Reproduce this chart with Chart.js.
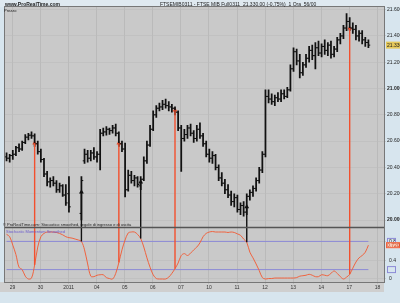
<!DOCTYPE html>
<html>
<head>
<meta charset="utf-8">
<script src="https://cdn.jsdelivr.net/npm/chart.js@4.4.0/dist/chart.umd.min.js"></script>
<style>
  html, body { margin: 0; padding: 0; background: #d7e5ee; }
  #wrap { position: relative; width: 400px; height: 303px; overflow: hidden; font-family: "Liberation Sans", Arial, sans-serif; }
  canvas { position: absolute; left: 0; top: 0; }
  .t { position: absolute; white-space: nowrap; font-size: 5px; line-height: 6px; color: #222; }
</style>
</head>
<body>
<div id="wrap">
  <canvas id="chart" width="400" height="303"></canvas>
  <div class="t" style="left:5px;top:1px;font-weight:bold;">www.ProRealTime.com</div>
  <div class="t" style="left:160px;top:1px;">FTSEMIB0311 - FTSE MIB Full0311 &nbsp;21.330,00 (-0,75%) &nbsp;1 Ora &nbsp;56/00</div>
  <div class="t" style="left:4px;top:8px;font-size:4px;">Prezzo</div>
  <div class="t" style="left:3px;top:222px;font-size:4px;">© ProRealTime.com: Stocastico smoothed, regole di ingresso e di uscita</div>
  <div class="t" style="left:6px;top:229px;font-size:4px;color:#6a5acd;">Stochastic Momentum Smoothed</div>
</div>
<script>
/* hourly bars, 9 per session */
const BARS_PER_DAY = 9;
const DAY_START = 2.39;
const DAY_LABELS = ['29', '30', '2011', '04', '05', '06', '07', '10', '11', '12', '13', '14', '17', '18'];

const OPEN = [
  20480, 20470, 20490, 20500, 20550, 20540, 20590, 20630, 20645, 20640,
  20580, 20520, 20460, 20350, 20290, 20300, 20280, 20230, 20260, 20190,
  20200, null, null, null, 20050, 20450, 20500, 20470, 20510, 20480,
  20500, 20660, 20670, 20690, 20680, 20700, 20660, 20580, 20540, 20230,
  20340, 20300, 20320, 20260, 20310, 20450, 20570, 20690, 20800, 20850,
  20860, 20880, 20870, 20860, 20850, 20820, 20700, 20620, 20650, 20700,
  20660, 20620, 20690, 20640, 20580, 20500, 20470, 20490, 20400, 20320,
  20280, 20230, 20190, 20140, 20170, 20080, 20110, 20060, 20180, 20210,
  20240, 20300, 20380, 20500, 20940, 20920, 20900, 20930, 20920, 20960,
  20940, 20990, 21150, 21280, 21210, 21120, 21180, 21230, 21290, 21250,
  21310, 21270, 21320, 21290, 21330, 21260, 21300, 21370, 21400, 21460,
  21510, 21460, 21450, 21400, 21420, 21370, 21350
];
const HIGH = [
  20510, 20500, 20530, 20560, 20580, 20600, 20650, 20660, 20670, 20655,
  20600, 20540, 20470, 20370, 20320, 20330, 20300, 20280, 20270, 20270,
  20330, null, null, null, 20330, 20540, 20530, 20530, 20550, 20520,
  20690, 20700, 20710, 20700, 20720, 20730, 20670, 20600, 20585, 20380,
  20370, 20340, 20330, 20330, 20480, 20600, 20720, 20830, 20870, 20890,
  20910, 20920, 20900, 20880, 20860, 20830, 20720, 20690, 20720, 20730,
  20680, 20720, 20740, 20660, 20600, 20540, 20520, 20500, 20420, 20360,
  20310, 20270, 20220, 20200, 20190, 20130, 20140, 20200, 20230, 20260,
  20320, 20400, 20520, 20990, 20990, 20960, 20950, 20970, 20990, 20990,
  21010, 21180, 21310, 21300, 21260, 21200, 21260, 21320, 21330, 21350,
  21360, 21340, 21370, 21350, 21360, 21320, 21390, 21420, 21480, 21570,
  21540, 21500, 21480, 21440, 21440, 21390, 21370
];
const LOW = [
  20450, 20440, 20460, 20490, 20520, 20530, 20580, 20610, 20620, 20560,
  20500, 20440, 20330, 20260, 20250, 20260, 20210, 20210, 20180, 20110,
  20060, null, null, null, 20000, 20430, 20440, 20450, 20460, 20440,
  20380, 20640, 20645, 20650, 20660, 20640, 20560, 20520, 20175, 20220,
  20280, 20260, 20250, 20230, 20300, 20430, 20560, 20680, 20780, 20830,
  20840, 20850, 20830, 20820, 20800, 20680, 20370, 20600, 20620, 20640,
  20590, 20600, 20620, 20560, 20480, 20440, 20430, 20380, 20300, 20260,
  20200, 20170, 20110, 20100, 20060, 20040, 20030, 20040, 20150, 20180,
  20220, 20280, 20360, 20480, 20890, 20880, 20870, 20900, 20900, 20920,
  20930, 20980, 21130, 21180, 21080, 21100, 21160, 21200, 21220, 21150,
  21250, 21240, 21260, 21250, 21230, 21240, 21280, 21340, 21380, 21440,
  21440, 21420, 21370, 21360, 21340, 21320, 21310
];
const CLOSE = [
  20470, 20490, 20500, 20550, 20540, 20590, 20630, 20645, 20640, 20580,
  20520, 20460, 20350, 20290, 20300, 20280, 20230, 20260, 20190, 20130,
  20100, null, null, null, 20300, 20500, 20470, 20510, 20480, 20500,
  20660, 20670, 20690, 20680, 20700, 20660, 20580, 20540, 20230, 20340,
  20300, 20320, 20270, 20310, 20450, 20570, 20690, 20800, 20850, 20860,
  20880, 20870, 20860, 20850, 20820, 20700, 20620, 20650, 20700, 20660,
  20620, 20690, 20640, 20580, 20500, 20470, 20490, 20400, 20320, 20280,
  20230, 20190, 20140, 20170, 20080, 20110, 20060, 20180, 20210, 20240,
  20300, 20380, 20500, 20940, 20920, 20900, 20930, 20920, 20960, 20940,
  20990, 21150, 21280, 21210, 21120, 21180, 21230, 21290, 21250, 21310,
  21270, 21320, 21290, 21330, 21260, 21300, 21370, 21400, 21460, 21510,
  21460, 21450, 21400, 21420, 21370, 21350, 21330
];

/* stochastic smoothed, 0..1 */
const OSC = [
  0.95, 0.90, 0.72, 0.52, 0.25, 0.20, 0.06, 0.00, 0.02, 0.30,
  0.68, 0.90, 0.97, 1.00, 1.00, 1.00, 0.99, 0.97, 0.94, 0.90,
  0.88, 0.87, 0.85, 0.83, 0.80, 0.62, 0.32, 0.06, 0.05, 0.08,
  0.09, 0.09, 0.03, 0.01, 0.00, 0.12, 0.35, 0.62, 0.83, 0.98,
  1.00, 1.00, 0.95, 0.86, 0.68, 0.45, 0.25, 0.09, 0.01, 0.00,
  0.00, 0.00, 0.04, 0.12, 0.22, 0.34, 0.50, 0.54, 0.50, 0.55,
  0.62, 0.68, 0.77, 0.90, 0.97, 1.00, 1.01, 1.00, 1.00, 1.00,
  1.00, 0.99, 1.00, 0.99, 0.96, 0.93, 0.85, 0.78, 0.57, 0.45,
  0.32, 0.18, 0.03, 0.00, 0.01, 0.01, 0.02, 0.02, 0.02, 0.02,
  0.02, 0.02, 0.02, 0.03, 0.06, 0.07, 0.08, 0.10, 0.08, 0.05,
  0.05, 0.09, 0.08, 0.07, 0.12, 0.17, 0.12, 0.05, 0.00, 0.04,
  0.10, 0.23, 0.36, 0.45, 0.50, 0.57, 0.72
];
const LEVELS = [0.2, 0.8];

const SELL_BAR = [9, 36, 54, 110];
const SELL_PRICE = [20585, 20585, 20836, 21460];
const BUY_BAR = [24, 43, 77];
const BUY_PRICE = [20213, 20289, 20100];

const PRICE_TICKS = [20000, 20100, 20200, 20300, 20400, 20500, 20600, 20700, 20800,
  20900, 21000, 21100, 21200, 21300, 21400, 21500, 21600];
const OSC_TICKS = [0, 0.2, 0.4, 0.6, 0.8, 1];

const FONT = '"Liberation Sans", Arial, sans-serif';
const SELL_COLOR = '#f2502e';
const OSC_COLOR = '#f0633f';
const LEVEL_COLOR = '#8c8ad6';

function fmtPrice(v) {
  return Math.floor(v / 1000) + '.' + String(v % 1000).padStart(3, '0');
}

const hlBars = [], openTicks = [], closeTicks = [];
OPEN.forEach((o, i) => {
  if (o == null) return;
  hlBars.push({x: i + 0.5, y: [LOW[i], HIGH[i]]});
  openTicks.push({x: i + 0.2, y: o});
  closeTicks.push({x: i + 0.8, y: CLOSE[i]});
});
const oscData = OSC.map((v, i) => ({x: i + 0.5, y: v}));
const levelSets = LEVELS.map(lv => ({
  type: 'line', yAxisID: 'yo', data: [{x: 0.5, y: lv}, {x: OSC.length - 0.5, y: lv}],
  borderColor: LEVEL_COLOR, borderWidth: 1, pointRadius: 0,
}));

const panelBg = {
  id: 'panelBg',
  beforeDraw(chart) {
    const {ctx, chartArea: a} = chart;
    ctx.save();
    ctx.fillStyle = '#dfe9f0';
    ctx.fillRect(0, 0, 400, a.top);
    ctx.fillStyle = '#cfcfcf';
    ctx.fillRect(0, a.bottom, a.right, 10);
    ctx.fillStyle = '#c9c9c9';
    ctx.fillRect(a.left, a.top, a.right - a.left, a.bottom - a.top);
    ctx.restore();
  },
};

const signalLines = {
  id: 'signalLines',
  afterDatasetsDraw(chart) {
    const {ctx} = chart;
    const x = chart.scales.x, y = chart.scales.y, yo = chart.scales.yo;
    ctx.save();
    ctx.lineWidth = 1.4;
    const draw = (bars, prices, color) => {
      ctx.strokeStyle = color;
      bars.forEach((b, k) => {
        const px = x.getPixelForValue(b + 0.5);
        ctx.beginPath();
        ctx.moveTo(px, y.getPixelForValue(prices[k]));
        ctx.lineTo(px, yo.getPixelForValue(OSC[b]));
        ctx.stroke();
      });
    };
    draw(SELL_BAR, SELL_PRICE, SELL_COLOR);
    draw(BUY_BAR, BUY_PRICE, '#111');
    ctx.restore();
  },
};

const frame = {
  id: 'frame',
  afterDraw(chart) {
    const {ctx, chartArea: a} = chart;
    const y = chart.scales.y, yo = chart.scales.yo;
    ctx.save();
    ctx.strokeStyle = '#555';
    ctx.lineWidth = 1.5;
    ctx.beginPath();
    ctx.moveTo(a.left, yo.top);
    ctx.lineTo(a.right, yo.top);
    ctx.stroke();
    ctx.lineWidth = 1;
    ctx.strokeStyle = '#777';
    ctx.strokeRect(a.left - 0.5, a.top - 0.5, a.right - a.left + 1, a.bottom - a.top + 1);

    ctx.font = '5px ' + FONT;
    ctx.textBaseline = 'middle';
    // boxed level labels
    LEVELS.forEach(lv => {
      const py = yo.getPixelForValue(lv);
      ctx.strokeStyle = LEVEL_COLOR;
      ctx.strokeRect(a.right + 3.5, py - 3, 8, 6);
    });
    // last price
    const last = CLOSE[CLOSE.length - 1];
    let py = y.getPixelForValue(last);
    ctx.fillStyle = '#e6c95a';
    ctx.fillRect(a.right + 2, py - 3.5, 15, 7);
    ctx.fillStyle = '#222';
    ctx.fillText(fmtPrice(last), a.right + 3, py);
    // last oscillator value
    const lastOsc = OSC[OSC.length - 1];
    py = yo.getPixelForValue(lastOsc);
    ctx.fillStyle = '#f6c9b4';
    ctx.fillRect(a.right + 2, py - 3, 14, 6);
    ctx.strokeStyle = OSC_COLOR;
    ctx.strokeRect(a.right + 2.5, py - 2.5, 13, 5);
    ctx.fillStyle = '#d04020';
    ctx.fillText(lastOsc.toFixed(4), a.right + 3, py);
    ctx.restore();
  },
};

new Chart(document.getElementById('chart'), {
  type: 'bar',
  data: {
    datasets: [
      {type: 'bar', yAxisID: 'y', data: hlBars, backgroundColor: '#111', barThickness: 1.1, grouped: false},
      {type: 'scatter', yAxisID: 'y', data: openTicks, pointStyle: 'line', radius: 0.9,
       borderColor: '#111', borderWidth: 1},
      {type: 'scatter', yAxisID: 'y', data: closeTicks, pointStyle: 'line', radius: 0.9,
       borderColor: '#111', borderWidth: 1},
      {type: 'line', yAxisID: 'yo', data: oscData, borderColor: OSC_COLOR, borderWidth: 1,
       pointRadius: 0, tension: 0.35},
      ...levelSets,
      {type: 'scatter', yAxisID: 'y', data: SELL_BAR.map((b, k) => ({x: b + 0.5, y: SELL_PRICE[k]})),
       pointStyle: 'triangle', radius: 2.8, backgroundColor: SELL_COLOR, borderColor: SELL_COLOR, borderWidth: 0},
      {type: 'scatter', yAxisID: 'y', data: BUY_BAR.map((b, k) => ({x: b + 0.5, y: BUY_PRICE[k]})),
       pointStyle: 'triangle', radius: 2.8, backgroundColor: '#111', borderColor: '#111', borderWidth: 0},
    ],
  },
  options: {
    responsive: false,
    animation: false,
    devicePixelRatio: 1,
    layout: {padding: {top: 7, left: 2.5, right: 0, bottom: 0}},
    plugins: {legend: {display: false}, tooltip: {enabled: false}},
    scales: {
      x: {
        type: 'linear', min: 0, max: 121.5, offset: false,
        afterFit: s => { s.height = 21; },
        afterBuildTicks: s => { s.ticks = DAY_LABELS.map((_, k) => ({value: DAY_START + k * BARS_PER_DAY})); },
        ticks: {autoSkip: false, maxRotation: 0, padding: 1, color: '#333',
                font: {size: 5, family: FONT}, callback: (v, i) => DAY_LABELS[i]},
        grid: {offset: false, color: '#b3b3b3', lineWidth: 0.7, tickLength: 2},
        border: {display: false},
      },
      y: {
        position: 'right', stack: 'panels', stackWeight: 220.5, min: 19943, max: 21620,
        afterFit: s => { s.width = 16; },
        afterBuildTicks: s => { s.ticks = PRICE_TICKS.map(v => ({value: v})); },
        ticks: {padding: 1, color: '#222', callback: v => fmtPrice(v),
                font: c => ({size: 5, family: FONT, weight: c.tick && c.tick.value % 500 === 0 ? 'bold' : 'normal'})},
        grid: {color: '#bcbcbc', lineWidth: 0.6, tickLength: 2},
        border: {color: '#777'},
      },
      yo: {
        position: 'right', stack: 'panels', stackWeight: 54.5, min: -0.064, max: 1.096,
        afterFit: s => { s.width = 16; },
        afterBuildTicks: s => { s.ticks = OSC_TICKS.map(v => ({value: v})); },
        ticks: {padding: 3, color: '#222', font: {size: 5, family: FONT},
                callback: v => (v === 0 || v === 1) ? String(v) : v.toFixed(1)},
        grid: {color: '#bcbcbc', lineWidth: 0.6, tickLength: 2},
        border: {color: '#777'},
      },
    },
  },
  plugins: [panelBg, signalLines, frame],
});
</script>
</body>
</html>
